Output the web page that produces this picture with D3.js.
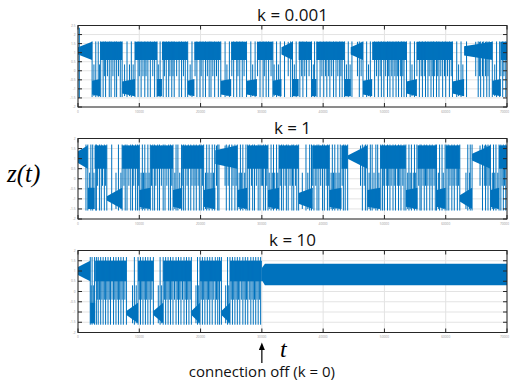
<!DOCTYPE html>
<html>
<head>
<meta charset="utf-8">
<script src="https://cdn.jsdelivr.net/npm/d3@7"></script>
<style>
  body { margin: 0; background: #fff; }
  svg { display: block; }
</style>
</head>
<body>
<svg id="chart" width="510" height="390"></svg>
<script>
// ---- data ----
const tTicks = [0, 10000, 20000, 30000, 40000, 50000, 60000, 70000];
const yTicksTop = [-2, -1.5, -1, -0.5, 0, 0.5, 1, 1.5, 2, 2.5];
const yTicks = [-2, -1.5, -1, -0.5, 0, 0.5, 1, 1.5, 2];
const titles = ['k = 0.001', 'k = 1', 'k = 10'];
const offTime = 30000;

// dense part of the oscillation on each lobe [lo, hi]
const upperBand = [[0.6, 1.6], [0.5, 1.65], [0.5, 1.5]];
const lowerBand = [[-1.4, -0.45], [-1.5, -0.45], [-1.55, -0.55]];
// full swings between lobes [lo, hi]
const spikeRange = [[-1.45, 1.62], [-1.58, 1.7], [-1.62, 1.68]];
// partial swings: reach from own lobe to this level of the other side
const swingReach = [[-0.3, 0.35], [-0.35, 0.3], [-0.4, 0.3]];

// episodes: [tStart, tEnd, lobe (1 upper / -1 lower), spread at start]
const episodesK1 = [
  [0, 2300, 1, 0.4], [2300, 3600, -1, 0.8], [3600, 7200, 1, 1], [7200, 9300, -1, 0.7],
  [9300, 12900, 1, 1], [12900, 13700, -1, 1], [13700, 17900, 1, 1], [17900, 19000, -1, 0.8],
  [19000, 23300, 1, 1], [23300, 25000, -1, 0.8], [25000, 27500, 1, 1], [27500, 29200, -1, 0.8],
  [29200, 31800, 1, 1], [31800, 33200, -1, 0.8], [33200, 35000, 1, 0.4], [35000, 36000, -1, 1],
  [36000, 38100, 1, 1], [38100, 38900, -1, 1], [38900, 43500, 1, 1], [43500, 44500, -1, 1],
  [44500, 46500, 1, 0.4], [46500, 48000, -1, 0.8], [48000, 53600, 1, 1], [53600, 55300, -1, 0.7],
  [55300, 61100, 1, 1], [61100, 63000, -1, 0.7], [63000, 67600, 1, 0.5], [67600, 69000, -1, 0.8],
  [69000, 70000, 1, 1]
];
const spikesK1 = [
  2300, 2900, 3300, 3700, 4100, 4500, 5100, 5400, 6000, 6300, 6900, 7200, 8000, 8700, 9300, 9800,
  10300, 10900, 11400, 11800, 12500, 12900, 13400, 13900, 14400, 14800, 15300, 15700, 16500, 16900,
  17500, 17900, 18600, 19400, 19900, 20400, 20800, 21400, 21700, 22300, 22900, 23300, 24000, 24700,
  25400, 25900, 26400, 26800, 27500, 28200, 28900, 29700, 30200, 30700, 31100, 31800, 32400, 33000,
  33700, 34700, 35000, 35600, 36200, 36700, 37300, 38100, 38600, 39000, 39500, 40100, 40600, 41100,
  41700, 42100, 42700, 43100, 43500, 44100, 44700, 45900, 46500, 47100, 47700, 48400, 49000, 49500,
  49900, 50500, 50900, 51400, 51900, 52300, 52800, 53200, 53600, 54200, 54900, 55700, 56200, 56700,
  57100, 57600, 58000, 58500, 58900, 59500, 60000, 60600, 61100, 61800, 62500, 63400, 65300, 65700,
  66200, 66700, 67100, 67600, 68300, 68800, 69300, 69800
];
const swingsK1 = [
  2600, 3500, 4300, 4800, 5700, 6600, 7600, 8400, 9000, 10000, 10600, 11100, 12200, 13100, 14100,
  15000, 15500, 16100, 17200, 18300, 19100, 20100, 21100, 22000, 22600, 24300, 25100, 26100, 27100,
  28500, 29300, 30400, 31500, 32000, 32700, 34300, 35300, 36500, 37000, 37700, 38400, 39800, 40400,
  40900, 41400, 42400, 42900, 43800, 44400, 45600, 46200, 47400, 48700, 49300, 50200, 50700, 51200,
  51700, 52100, 52600, 53000, 54500, 55300, 56000, 56500, 57300, 57800, 58200, 58700, 59200, 59800,
  60300, 60900, 62100, 62800, 64900, 65500, 66000, 66500, 66900, 68000, 69000, 69500
];
const startK1 = [[200, -1.5, 2.37]];

const episodesK2 = [
  [0, 1600, 1, 0.5], [1600, 2700, -1, 1], [2700, 4700, 1, 1], [4700, 7200, -1, 0.2],
  [7200, 10000, 1, 1], [10000, 11800, -1, 0.8], [11800, 15500, 1, 1], [15500, 17000, -1, 0.8],
  [17000, 20500, 1, 1], [20500, 22400, -1, 0.8], [22400, 26000, 1, 0.6], [26000, 27600, -1, 0.8],
  [27600, 31000, 1, 1], [31000, 32800, -1, 0.8], [32800, 36000, 1, 1], [36000, 38300, -1, 0.5],
  [38300, 41000, 1, 1], [41000, 43000, -1, 0.8], [43000, 44000, 1, 1], [44000, 47200, 1, 0.15],
  [47200, 49300, -1, 0.8], [49300, 53500, 1, 1], [53500, 55400, -1, 0.8], [55400, 58500, 1, 1],
  [58500, 60000, -1, 0.8], [60000, 62300, 1, 1], [62300, 64300, -1, 0.3], [64300, 67300, 1, 0.3],
  [67300, 68700, -1, 0.8], [68700, 70000, 1, 1]
];
const spikesK2 = [
  1300, 1600, 2100, 2400, 2900, 3000, 3500, 3800, 4300, 4700, 5500, 6600, 7200, 7700, 8000, 8600,
  8900, 9400, 9700, 10000, 10500, 10900, 11400, 11800, 12200, 12500, 13000, 13300, 13900, 14200,
  14800, 15100, 15500, 16000, 16300, 16900, 17200, 17500, 18000, 18400, 18900, 19300, 19800, 20100,
  20500, 21000, 21400, 21900, 22300, 22800, 23000, 24200, 24700, 25100, 25600, 26000, 26500, 26900,
  27400, 27700, 28000, 28500, 28800, 29400, 29700, 30300, 30600, 31000, 31500, 31900, 32400, 32800,
  33200, 33500, 34000, 34300, 34900, 35200, 35700, 36000, 37200, 37800, 38100, 38500, 39000, 39300,
  39900, 40200, 40700, 41000, 41500, 41900, 42400, 42800, 43300, 43600, 44000, 46400, 46900, 47200,
  47700, 48000, 48600, 48900, 49400, 49700, 50000, 50500, 50900, 51400, 51800, 52300, 52700, 53200,
  53500, 54000, 54400, 54900, 55300, 55800, 56000, 56500, 56900, 57400, 57800, 58300, 58500, 59000,
  59400, 59900, 60200, 60500, 61000, 61400, 61900, 62300, 63600, 64000, 64300, 66000, 66500, 66900,
  67300, 67800, 68200, 68700, 69000, 69400, 69800
];
const swingsK2 = [
  1900, 2600, 3200, 4000, 4500, 6200, 7000, 7500, 8300, 9100, 9900, 10300, 10700, 11100, 11600,
  12000, 12700, 13600, 14500, 15300, 15800, 16600, 17000, 17800, 18600, 19100, 19600, 20300, 20800,
  21200, 21700, 22100, 22600, 24000, 24500, 25300, 25800, 26300, 26700, 27200, 28300, 29100, 29900,
  30100, 30800, 31200, 31700, 32100, 32600, 33000, 33800, 34600, 35000, 35500, 36600, 37500, 38300,
  38800, 39600, 40500, 40900, 41300, 41700, 42100, 42600, 43100, 46100, 46700, 47500, 48300, 49100,
  49900, 50300, 50700, 51100, 51600, 52100, 52500, 53000, 53800, 54200, 54700, 55100, 55600, 56300,
  56700, 57100, 57600, 58100, 58800, 59600, 60700, 61200, 61700, 62100, 63300, 63900, 65600, 66300,
  66700, 67100, 67600, 68000, 68500, 69200, 69600
];

const episodesK3 = [
  [0, 2000, 1, 0.4], [2000, 2800, -1, 1], [2800, 7900, 1, 1], [7900, 9800, -1, 0.2],
  [9800, 12300, 1, 1], [12300, 13900, -1, 0.2], [13900, 18500, 1, 1], [18500, 19900, -1, 0.2],
  [19900, 23400, 1, 1], [23400, 24800, -1, 0.2], [24800, 30000, 1, 1]
];
const spikesK3 = [
  2000, 2300, 2700, 3000, 3300, 3700, 4100, 4500, 4900, 5300, 5800, 6200, 6600, 7000, 7400, 7900,
  9200, 9800, 10200, 10600, 11000, 11400, 11800, 12300, 13400, 13900, 14300, 14700, 15100, 15500,
  16000, 16400, 16800, 17300, 17700, 18100, 18500, 19500, 19900, 20300, 20700, 21100, 21500, 21900,
  22400, 22800, 23100, 23400, 24400, 24800, 25200, 25600, 26000, 26400, 26900, 27300, 27700, 28200,
  28600, 29000, 29400, 29800
];
const swingsK3 = [
  2150, 2500, 3150, 3500, 3900, 4300, 4700, 5100, 5550, 6000, 6400, 6800, 7200, 7650, 8900, 9500,
  10000, 10400, 10800, 11200, 11600, 12050, 13100, 13650, 14100, 14500, 14900, 15300, 15750, 16200,
  16600, 17050, 17500, 17900, 18300, 19250, 19700, 20100, 20500, 20900, 21300, 21700, 22150, 22600,
  23000, 24100, 24600, 25000, 25400, 25800, 26200, 26650, 27100, 27500, 27950, 28400, 28800, 29200,
  29600
];
// envelope once the connection is off: [t, lo, hi]
const syncBandK3 = [[30000, 0.55, 1.15], [30500, 0.3, 1.35], [70000, 0.3, 1.35]];

// ---- drawing ----
const blue = '#0072bd';
const svg = d3.select('#chart');
const left = 78, width = 429;
const panelTop = [25.5, 138.5, 250.5];
const panelHeight = [81.5, 80.5, 82];
const titleY = [21, 134, 246];

const panels = [
  {episodes: episodesK1, spikes: spikesK1, swings: swingsK1, extra: startK1, ticks: yTicksTop},
  {episodes: episodesK2, spikes: spikesK2, swings: swingsK2, extra: [], ticks: yTicks},
  {episodes: episodesK3, spikes: spikesK3, swings: swingsK3, extra: [], ticks: yTicks, sync: syncBandK3}
];

const x = d3.scaleLinear().domain([0, 70000]).range([0, width]);

panels.forEach((p, i) => {
  const h = panelHeight[i];
  const y = d3.scaleLinear().domain(d3.extent(p.ticks)).range([h, 0]);
  const g = svg.append('g').attr('transform', `translate(${left},${panelTop[i]})`);

  svg.append('defs').append('clipPath').attr('id', 'clip' + i)
    .append('rect').attr('width', width).attr('height', h);

  // grid
  g.append('g').selectAll('line').data(tTicks).enter().append('line')
    .attr('x1', d => x(d)).attr('x2', d => x(d)).attr('y1', 0).attr('y2', h)
    .attr('stroke', '#e3e3e3').attr('stroke-width', 1);
  g.append('g').selectAll('line').data(p.ticks).enter().append('line')
    .attr('y1', d => y(d)).attr('y2', d => y(d)).attr('x1', 0).attr('x2', width)
    .attr('stroke', '#e3e3e3').attr('stroke-width', 1);

  const plot = g.append('g').attr('clip-path', `url(#clip${i})`);

  // dense oscillation on the current lobe
  const area = d3.area().x(d => x(d.t)).y0(d => y(d.lo)).y1(d => y(d.hi));
  const bandPts = p.episodes.map(e => {
    const band = e[2] > 0 ? upperBand[i] : lowerBand[i];
    const c = (band[0] + band[1]) / 2, half = (band[1] - band[0]) / 2;
    return [
      {t: e[0], lo: c - half * e[3], hi: c + half * e[3]},
      {t: e[1], lo: band[0], hi: band[1]}
    ];
  });
  plot.selectAll('path.band').data(bandPts).enter().append('path')
    .attr('d', area).attr('fill', blue);

  if (p.sync) {
    plot.append('path')
      .attr('d', area(p.sync.map(d => ({t: d[0], lo: d[1], hi: d[2]}))))
      .attr('fill', blue);
  }

  // partial swings, direction from the lobe the episode sits on
  const lobeAt = t => {
    const e = p.episodes.find(e => t >= e[0] && t < e[1]);
    return e ? e[2] : 1;
  };
  plot.selectAll('line.swing').data(p.swings).enter().append('line')
    .attr('x1', d => x(d)).attr('x2', d => x(d))
    .attr('y1', d => lobeAt(d) > 0 ? y(upperBand[i][1]) : y(lowerBand[i][0]))
    .attr('y2', d => lobeAt(d) > 0 ? y(swingReach[i][0]) : y(swingReach[i][1]))
    .attr('stroke', blue).attr('stroke-width', 1);

  // full lobe switches
  plot.selectAll('line.spike').data(p.spikes).enter().append('line')
    .attr('x1', d => x(d)).attr('x2', d => x(d))
    .attr('y1', y(spikeRange[i][0])).attr('y2', y(spikeRange[i][1]))
    .attr('stroke', blue).attr('stroke-width', 1);
  plot.selectAll('line.extra').data(p.extra).enter().append('line')
    .attr('x1', d => x(d[0])).attr('x2', d => x(d[0]))
    .attr('y1', d => y(d[1])).attr('y2', d => y(d[2]))
    .attr('stroke', blue).attr('stroke-width', 1.2);

  // box and inward ticks
  g.append('rect').attr('width', width).attr('height', h)
    .attr('fill', 'none').attr('stroke', '#262626').attr('stroke-width', 1);
  const tl = 4;
  const tk = g.append('g').attr('stroke', '#262626').attr('stroke-width', 1);
  tTicks.forEach(t => {
    tk.append('line').attr('x1', x(t)).attr('x2', x(t)).attr('y1', h).attr('y2', h - tl);
    tk.append('line').attr('x1', x(t)).attr('x2', x(t)).attr('y1', 0).attr('y2', tl);
  });
  p.ticks.forEach(v => {
    tk.append('line').attr('y1', y(v)).attr('y2', y(v)).attr('x1', 0).attr('x2', tl);
    tk.append('line').attr('y1', y(v)).attr('y2', y(v)).attr('x1', width).attr('x2', width - tl);
  });

  // tiny tick labels
  const last = tTicks[tTicks.length - 1];
  g.append('g').selectAll('text').data(tTicks).enter().append('text')
    .attr('x', d => d === last ? x(d) + 2 : x(d)).attr('y', h + 5.5)
    .attr('text-anchor', d => d === last ? 'end' : 'middle')
    .attr('font-family', 'Open Sans, sans-serif').attr('font-size', 3.2).attr('fill', '#999')
    .text(d => d);
  g.append('g').selectAll('text').data(p.ticks).enter().append('text')
    .attr('x', -2.5).attr('y', d => y(d) + 1).attr('text-anchor', 'end')
    .attr('font-family', 'Open Sans, sans-serif').attr('font-size', 3.2).attr('fill', '#999')
    .text(d => d);

  svg.append('text').attr('x', left + width / 2).attr('y', titleY[i])
    .attr('text-anchor', 'middle').attr('font-family', 'Open Sans, sans-serif')
    .attr('font-size', 17).attr('fill', '#111').text(titles[i]);
});

// axis labels
svg.append('text').attr('x', 7).attr('y', 182)
  .attr('font-family', 'Liberation Serif, Times New Roman, serif').attr('font-style', 'italic')
  .attr('font-size', 25).attr('fill', '#000').text('z(t)');
svg.append('text').attr('x', 280).attr('y', 357)
  .attr('font-family', 'Liberation Serif, Times New Roman, serif').attr('font-style', 'italic')
  .attr('font-size', 24).attr('fill', '#000').text('t');

// connection-off marker
const ax = left + x(offTime);
svg.append('line').attr('x1', ax).attr('x2', ax).attr('y1', 363).attr('y2', 348)
  .attr('stroke', '#000').attr('stroke-width', 1.2);
svg.append('path').attr('d', `M${ax},342.5 L${ax - 3},350 L${ax + 3},350 Z`).attr('fill', '#000');
svg.append('text').attr('x', ax).attr('y', 377).attr('text-anchor', 'middle')
  .attr('font-family', 'Open Sans, sans-serif').attr('font-size', 15).attr('fill', '#111')
  .text('connection off (k = 0)');
</script>
</body>
</html>
